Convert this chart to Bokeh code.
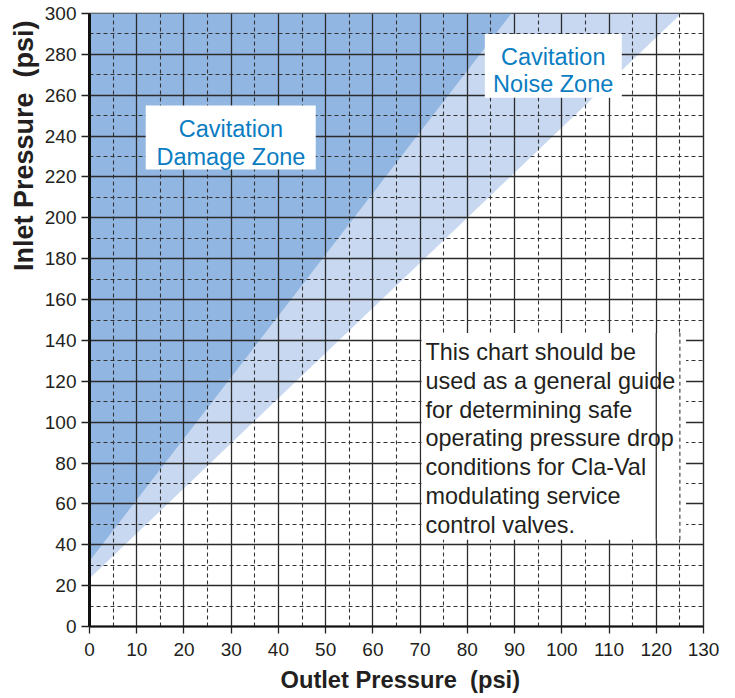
import math
from bokeh.plotting import figure
from bokeh.models import Range1d, FixedTicker, Label, Title
from bokeh.embed import file_html
from bokeh.resources import INLINE

# ---- data ----
x_ticks = [0, 10, 20, 30, 40, 50, 60, 70, 80, 90, 100, 110, 120, 130]
x_minor = [5, 15, 25, 35, 45, 55, 65, 75, 85, 95, 105, 115, 125]
y_ticks = [0, 20, 40, 60, 80, 100, 120, 140, 160, 180, 200, 220, 240, 260, 280, 300]
y_minor = [10, 30, 50, 70, 90, 110, 130, 150, 170, 190, 210, 230, 250, 270, 290]

# zone boundary lines (outlet psi, inlet psi)
damage_outlet = [0, 89.3]
damage_inlet = [32, 300]
noise_outlet = [0, 125.3]
noise_inlet = [23.5, 300]

damage_label = ["Cavitation", "Damage Zone"]
noise_label = ["Cavitation", "Noise Zone"]
note_lines = ["This chart should be",
              "used as a general guide",
              "for determining safe",
              "operating pressure drop",
              "conditions for Cla-Val",
              "modulating service",
              "control valves."]
x_title = "Outlet Pressure\u00a0 (psi)"
y_title = "Inlet Pressure\u00a0 (psi)"

# ---- styles ----
FONT = "Liberation Sans"
DARK = "#92b6e2"
LIGHT = "#c7d8f0"
BLUE = "#0a7dc2"
INK = "#231f20"
GRID = "#2b2b2b"
DASH = "4 3"

p = figure(width=735, height=698,
           x_range=Range1d(0, 130), y_range=Range1d(0, 300),
           min_border_left=89, min_border_right=32,
           min_border_top=13, min_border_bottom=71,
           output_backend="svg", toolbar_location=None)
p.background_fill_color = "white"
p.border_fill_color = "white"
p.outline_line_color = GRID
p.outline_line_width = 1.4

# zones
light = p.patch([noise_outlet[0], noise_outlet[1], noise_outlet[0]],
                [noise_inlet[0], noise_inlet[1], noise_inlet[1]],
                fill_color=LIGHT, line_color=None)
dark = p.patch([damage_outlet[0], damage_outlet[1], damage_outlet[0]],
               [damage_inlet[0], damage_inlet[1], damage_inlet[1]],
               fill_color=DARK, line_color=None)
light.level = "image"
dark.level = "image"

# grids
for g, t, m in ((p.xgrid, x_ticks, x_minor), (p.ygrid, y_ticks, y_minor)):
    g.ticker = FixedTicker(ticks=t, minor_ticks=m)
    g.grid_line_color = GRID
    g.grid_line_width = 1.3
    g.minor_grid_line_color = "#333333"
    g.minor_grid_line_width = 1.1
    g.minor_grid_line_dash = DASH

# axes
p.xaxis.ticker = FixedTicker(ticks=x_ticks)
p.yaxis.ticker = FixedTicker(ticks=y_ticks)
for ax in (p.xaxis[0], p.yaxis[0]):
    ax.minor_tick_line_color = None
    ax.major_tick_in = 0
    ax.major_tick_line_color = "#222222"
    ax.major_tick_line_width = 1.3
    ax.axis_line_color = "#111111"
    ax.major_label_text_font = FONT
    ax.major_label_text_font_size = "19px"
    ax.major_label_text_color = INK
p.yaxis.major_tick_out = 8
p.yaxis.major_label_standoff = 5
p.yaxis.axis_line_width = 3
p.xaxis.major_tick_out = 7
p.xaxis.major_label_standoff = 9
p.xaxis.axis_line_width = 2

# white label boxes
p.quad(left=[11.9, 83.7, 70.3], right=[47.9, 112.7, 126.3],
       bottom=[223.7, 258.8, 42.5], top=[255.0, 290.0, 143.6],
       fill_color="white", line_color=None)
# grid lines that run over the note box
p.segment(x0=[120], y0=[42.5], x1=[120], y1=[143.6], line_color=GRID, line_width=1.3)
p.segment(x0=[125], y0=[42.5], x1=[125], y1=[143.6], line_color="#333333",
          line_width=1.1, line_dash=DASH)

def lab(x, y, text, size, color=INK, align="left"):
    p.add_layout(Label(x=x, y=y, text=text, text_font=FONT,
                       text_font_size=size, text_color=color,
                       text_align=align, text_baseline="alphabetic"))

for i, t in enumerate(damage_label):
    lab(29.94, 243.7 - i * 13.9, t, "23.5px", BLUE, "center")
for i, t in enumerate(noise_label):
    lab(98.18, 278.6 - i * 13.3, t, "23.5px", BLUE, "center")
for i, t in enumerate(note_lines):
    lab(71.14, 134.36 - i * 14.09, t, "23.4px")

# axis titles
p.add_layout(Title(text=x_title, align="left", offset=191, standoff=12,
                   vertical_align="bottom",
                   text_font=FONT, text_font_size="23.7px", text_font_style="bold",
                   text_color=INK), "below")
p.add_layout(Title(text=y_title, align="right", offset=7, standoff=6,
                   vertical_align="bottom",
                   text_font=FONT, text_font_size="27px", text_font_style="bold",
                   text_color=INK), "left")

open("out.html", "w").write(file_html(p, INLINE))
